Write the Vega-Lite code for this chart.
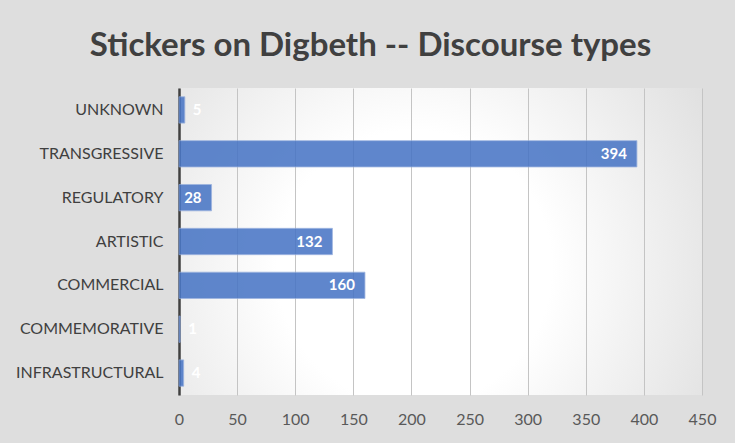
{
  "$schema": "https://vega.github.io/schema/vega-lite/v6.json",
  "autosize": "none",
  "width": 523,
  "height": 307,
  "padding": {"left": 179, "top": 88, "right": 33, "bottom": 48},
  "background": "#dedede",
  "config": {
    "view": {
      "stroke": null,
      "fill": {
        "gradient": "radial",
        "x1": 0.45, "y1": 0.55, "r1": 0,
        "x2": 0.45, "y2": 0.55, "r2": 0.75,
        "stops": [
          {"offset": 0, "color": "#ffffff"},
          {"offset": 0.35, "color": "#ffffff"},
          {"offset": 1, "color": "#d8d8d8"}
        ]
      }
    },
    "font": "Lato"
  },
  "title": {
    "text": "Stickers on Digbeth -- Discourse types",
    "font": "Lato",
    "fontSize": 33,
    "fontWeight": "bold",
    "color": "#404040",
    "anchor": "middle",
    "dx": -70,
    "dy": 34,
    "offset": 26,
    "baseline": "bottom"
  },
  "data": {
    "values": [
      {"type": "UNKNOWN", "n": 5},
      {"type": "TRANSGRESSIVE", "n": 394},
      {"type": "REGULATORY", "n": 28},
      {"type": "ARTISTIC", "n": 132},
      {"type": "COMMERCIAL", "n": 160},
      {"type": "COMMEMORATIVE", "n": 1},
      {"type": "INFRASTRUCTURAL", "n": 4}
    ]
  },
  "encoding": {
    "y": {
      "field": "type",
      "type": "nominal",
      "sort": ["UNKNOWN", "TRANSGRESSIVE", "REGULATORY", "ARTISTIC", "COMMERCIAL", "COMMEMORATIVE", "INFRASTRUCTURAL"],
      "scale": {"paddingInner": 0.4, "paddingOuter": 0.2},
      "axis": {
        "title": null,
        "ticks": false,
        "domainColor": "#404040",
        "domainWidth": 2.5,
        "labelFont": "Lato",
        "labelFontSize": 16,
        "labelColor": "#404040",
        "labelPadding": 16
      }
    }
  },
  "layer": [
    {
      "mark": {"type": "bar", "color": "#4472C4", "opacity": 0.85, "stroke": "#8faadc", "strokeWidth": 0.8},
      "encoding": {
        "x": {
          "field": "n",
          "type": "quantitative",
          "scale": {"domain": [0, 450], "nice": false},
          "axis": {
            "title": null,
            "values": [0, 50, 100, 150, 200, 250, 300, 350, 400, 450],
            "domain": false,
            "ticks": false,
            "grid": true,
            "gridColor": "#c4c4c4",
            "gridWidth": 1,
            "labelFlush": false,
            "labelFont": "Lato",
            "labelFontSize": 16,
            "labelColor": "#595959",
            "labelPadding": 16
          }
        }
      }
    },
    {
      "transform": [{"filter": "datum.n >= 10"}],
      "mark": {"type": "text", "align": "right", "dx": -10, "color": "white", "fontWeight": "bold", "fontSize": 15, "font": "Lato", "baseline": "middle"},
      "encoding": {
        "x": {"field": "n", "type": "quantitative"},
        "text": {"field": "n", "type": "quantitative"}
      }
    },
    {
      "transform": [{"filter": "datum.n < 10"}],
      "mark": {"type": "text", "align": "left", "dx": 8, "color": "white", "fontWeight": "bold", "fontSize": 15, "font": "Lato", "baseline": "middle"},
      "encoding": {
        "x": {"field": "n", "type": "quantitative"},
        "text": {"field": "n", "type": "quantitative"}
      }
    }
  ]
}
